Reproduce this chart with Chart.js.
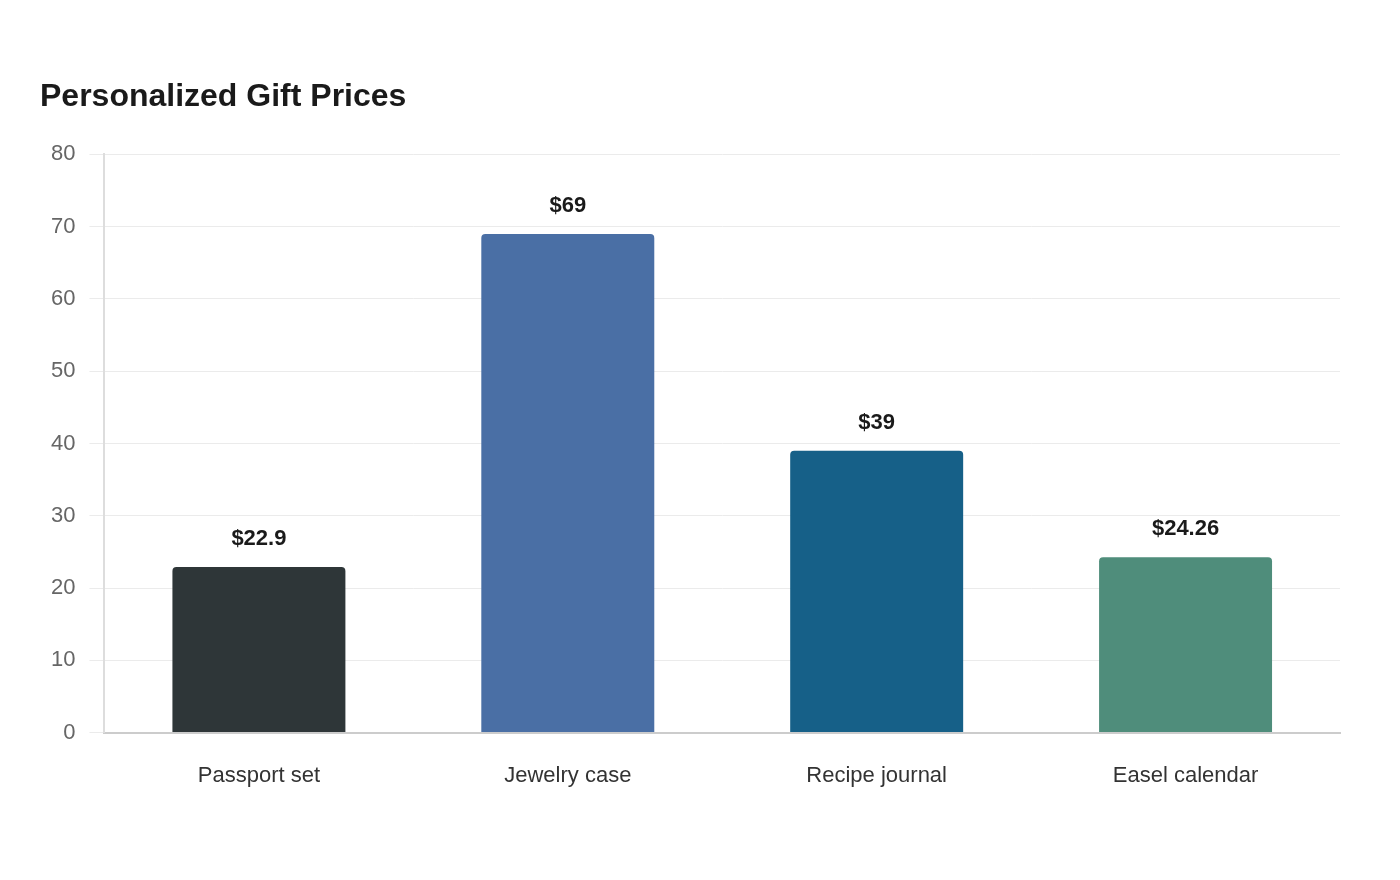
<!DOCTYPE html>
<html>
<head>
<meta charset="utf-8">
<script src="https://cdn.jsdelivr.net/npm/chart.js@4.4.0/dist/chart.umd.min.js"></script>
<style>
  html, body { margin: 0; padding: 0; background: #fff; }
  #wrap { width: 1400px; height: 880px; }
</style>
</head>
<body>
<div id="wrap"><canvas id="giftChart" width="1400" height="880"></canvas></div>
<script>
// gift price data
const giftNames = ['Passport set', 'Jewelry case', 'Recipe journal', 'Easel calendar'];
const giftPrices = [22.9, 69, 39, 24.26];
const barColors = ['#2E3638', '#4A6FA5', '#166088', '#4F8D7B'];
const yTicks = [0, 10, 20, 30, 40, 50, 60, 70, 80];

const fontFamily = '"Liberation Sans", Arial, Helvetica, sans-serif';

// price labels above each bar
const priceLabels = {
  id: 'priceLabels',
  afterDatasetsDraw(chart) {
    const ctx = chart.ctx;
    const meta = chart.getDatasetMeta(0);
    ctx.save();
    ctx.font = 'bold 22px ' + fontFamily;
    ctx.fillStyle = '#1a1a1a';
    ctx.textAlign = 'center';
    ctx.textBaseline = 'middle';
    meta.data.forEach((bar, i) => {
      ctx.fillText('$' + giftPrices[i], bar.x, bar.y - 28);
    });
    ctx.restore();
  }
};

const config = {
  type: 'bar',
  data: {
    labels: giftNames,
    datasets: [{
      data: giftPrices,
      backgroundColor: barColors,
      borderRadius: { topLeft: 4, topRight: 4 },
      borderSkipped: 'bottom',
      barPercentage: 0.8,
      categoryPercentage: 0.7
    }]
  },
  options: {
    responsive: false,
    animation: false,
    layout: {
      padding: { top: 78, left: 40, right: 60, bottom: 69 }
    },
    plugins: {
      legend: { display: false },
      tooltip: { enabled: false },
      title: {
        display: true,
        text: 'Personalized Gift Prices',
        align: 'start',
        color: '#1a1a1a',
        font: { family: fontFamily, size: 32, weight: 'bold' },
        padding: { top: 0, bottom: 38 }
      }
    },
    scales: {
      x: {
        grid: { display: false },
        border: { color: '#cccccc', width: 2 },
        ticks: {
          color: '#333333',
          padding: 22,
          font: { family: fontFamily, size: 22 }
        }
      },
      y: {
        min: 0,
        max: 80,
        afterBuildTicks(scale) {
          scale.ticks = yTicks.map(v => ({ value: v }));
        },
        afterFit(scale) {
          scale.width -= 3;
        },
        grid: { color: '#ebebeb', lineWidth: 1, tickLength: 15 },
        border: { color: '#dddddd', width: 2 },
        ticks: {
          color: '#666666',
          padding: 14,
          font: { family: fontFamily, size: 22 }
        }
      }
    }
  },
  plugins: [priceLabels]
};

new Chart(document.getElementById('giftChart'), config);
</script>
</body>
</html>
